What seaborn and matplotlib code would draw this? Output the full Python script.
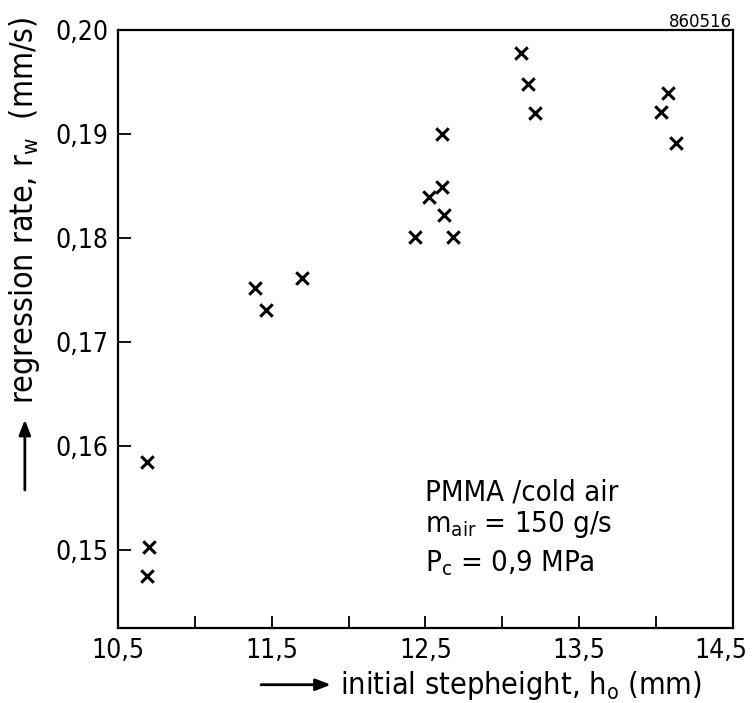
import numpy as np
import matplotlib
matplotlib.use("Agg")
import matplotlib.pyplot as plt
import seaborn as sns
import pandas as pd
from matplotlib.transforms import ScaledTranslation

# step height h0 (mm) and regression rate rw (mm/s)
h0 = [10.69, 10.70, 10.69, 11.39, 11.46, 11.70,
      12.43, 12.52, 12.61, 12.61, 12.62, 12.68,
      13.12, 13.17, 13.21, 14.03, 14.08, 14.13]
rw = [0.1585, 0.1503, 0.1475, 0.1752, 0.1731, 0.1762,
      0.1801, 0.1839, 0.1900, 0.1849, 0.1822, 0.1801,
      0.1978, 0.1948, 0.1920, 0.1921, 0.1939, 0.1891]

xticks = [10.5, 11.5, 12.5, 13.5, 14.5]
xminor = [11.0, 12.0, 13.0, 14.0]
yticks = [0.15, 0.16, 0.17, 0.18, 0.19, 0.20]

notes = ["PMMA /cold air", "m$_{air}$ = 150 g/s", "P$_c$ = 0,9 MPa"]
note_y = [0.1548, 0.1517, 0.1480]

df = pd.DataFrame({"h0": h0, "rw": rw})

sns.set_style("ticks")
plt.rcParams['font.family'] = ['DejaVu Sans']
plt.rcParams['font.stretch'] = 'condensed'
plt.rcParams['mathtext.default'] = 'regular'
plt.rcParams['text.color'] = 'black'

fig = plt.figure(figsize=(7.53, 7.03), dpi=100)
ax = fig.add_axes([0.1567, 0.1067, 0.8167, 0.8506])

sns.scatterplot(data=df, x="h0", y="rw", marker="x", s=80, color="black",
                linewidth=2.2, ax=ax)

ax.set_xlim(10.5, 14.5)
ax.set_ylim(0.1425, 0.2)
ax.set_xticks(xticks)
ax.set_xticklabels([f"{t:.1f}".replace(".", ",") for t in xticks])
ax.set_xticks(xminor, minor=True)
ax.set_yticks(yticks)
ax.set_yticklabels([f"{t:.2f}".replace(".", ",") for t in yticks])
ax.tick_params(axis="both", which="both", direction="in", length=9, width=1.3,
               labelsize=19, colors="black")
ax.tick_params(axis="x", pad=7)
ax.tick_params(axis="y", pad=7)
for sp in ax.spines.values():
    sp.set_visible(True)
    sp.set_linewidth(1.6)
    sp.set_color("black")
ax.set_xlabel("")
ax.set_ylabel("")

# last x label sits close to the page edge, nudge it left a little
last = ax.get_xticklabels()[-1]
last.set_transform(last.get_transform() + ScaledTranslation(-9 / 72, 0, fig.dpi_scale_trans))

# axis titles with arrows
fig.text(0.452, 0.025, "initial stepheight, h$_o$ (mm)", fontsize=22,
         ha="left", va="center")
ax.annotate("", xy=(0.443, 0.026), xytext=(0.343, 0.026), xycoords="figure fraction",
            arrowprops=dict(arrowstyle="-|>,head_length=0.9,head_width=0.35",
                            color="black", lw=2))
fig.text(0.033, 0.701, "regression rate, r$_w$  (mm/s)", fontsize=23,
         rotation=90, ha="center", va="center")
ax.annotate("", xy=(0.033, 0.407), xytext=(0.033, 0.299), xycoords="figure fraction",
            arrowprops=dict(arrowstyle="-|>,head_length=0.9,head_width=0.35",
                            color="black", lw=2))

fig.text(0.972, 0.9616, "860516", fontsize=12, fontstretch="normal",
         ha="right", va="baseline")

for txt, yy in zip(notes, note_y):
    ax.text(12.5, yy, txt, fontsize=21, va="baseline")

fig.savefig("out.png", dpi=100)
